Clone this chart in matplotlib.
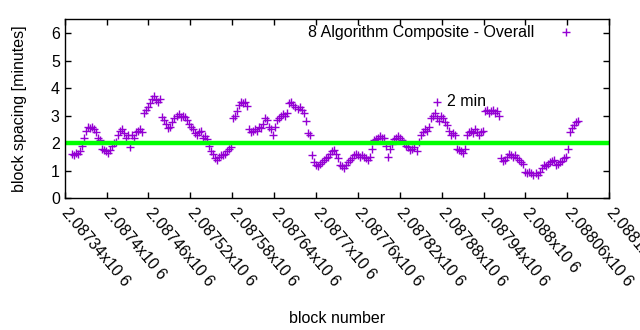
import numpy as np
import matplotlib
matplotlib.use('Agg')
import matplotlib.pyplot as plt
from matplotlib.ticker import FuncFormatter

plt.rcParams['font.family'] = ['Liberation Sans', 'DejaVu Sans']
plt.rcParams['font.size'] = 11.5

# block range covered by the series
first_block = 2087350
last_block = 2088075

# block spacing [minutes], read left to right
spacing = [
    1.6, 1.55, 1.65, 1.6, 1.7,
    1.9, 2.2, 2.45, 2.6, 2.55,
    2.6, 2.5, 2.4, 2.2, 2.1,
    1.8, 1.75, 1.7, 1.65, 1.75,
    1.9, 2.0, 2.05, 2.3, 2.45,
    2.5, 2.35, 2.2, 2.3, 1.85,
    2.3, 2.2, 2.4, 2.45, 2.5,
    2.4, 3.1, 3.2, 3.3, 3.45,
    3.6, 3.7, 3.55, 3.5, 3.6,
    2.95, 2.85, 2.7, 2.55, 2.6,
    2.75, 2.9, 3.0, 3.05, 2.95,
    3.0, 2.95, 2.85, 2.7, 2.6,
    2.5, 2.35, 2.3, 2.4, 2.45,
    2.2, 2.25, 2.15, 1.9, 1.7,
    1.6, 1.45, 1.4, 1.5, 1.55,
    1.55, 1.6, 1.7, 1.8, 1.85,
    2.9, 3.0, 3.15, 3.4, 3.5,
    3.45, 3.5, 3.35, 2.5, 2.4,
    2.45, 2.5, 2.45, 2.6, 2.55,
    2.7, 2.9, 2.85, 2.6, 2.5,
    2.3, 2.6, 2.85, 2.9, 3.0,
    3.05, 3.0, 3.1, 3.45, 3.5,
    3.4, 3.3, 3.25, 3.3, 3.2,
    3.1, 2.8, 2.35, 2.3, 1.55,
    1.3, 1.2, 1.15, 1.25, 1.3,
    1.4, 1.45, 1.5, 1.6, 1.7,
    1.75, 1.6, 1.45, 1.2, 1.15,
    1.1, 1.2, 1.3, 1.4, 1.45,
    1.55, 1.6, 1.55, 1.5, 1.55,
    1.5, 1.45, 1.4, 1.5, 1.8,
    2.1, 2.15, 2.2, 2.25, 2.2,
    2.2, 1.9, 1.5, 1.8, 1.95,
    2.15, 2.2, 2.25, 2.2, 2.1,
    2.0, 1.9, 1.85, 1.75, 1.8,
    1.85, 1.7, 2.05, 2.3, 2.4,
    2.5, 2.45, 2.6, 2.9, 3.0,
    3.1, 2.9, 2.8, 3.0, 2.9,
    2.75, 2.65, 2.45, 2.3, 2.35,
    2.3, 1.8, 1.75, 1.7, 1.65,
    1.8, 2.3, 2.4, 2.45, 2.35,
    2.5, 2.4, 2.3, 2.4, 2.45,
    3.15, 3.2, 3.1, 3.15, 3.2,
    3.1, 3.15, 3.0, 1.45, 1.35,
    1.4, 1.5, 1.6, 1.55, 1.5,
    1.55, 1.45, 1.4, 1.3, 1.25,
    0.95, 0.9, 0.95, 0.9, 0.85,
    0.9, 0.85, 0.95, 1.1, 1.2,
    1.15, 1.25, 1.3, 1.35, 1.4,
    1.2, 1.25, 1.3, 1.35, 1.45,
    1.5, 1.8, 2.4, 2.55, 2.65,
    2.75, 2.8,
]
blocks = np.linspace(first_block, last_block, len(spacing))

target = 2.0
label_block = 2087873
label_value = 3.5

xticks = np.arange(2087340, 2088121, 60)
yticks = [0, 1, 2, 3, 4, 5, 6]

purple = '#9400d3'

fig = plt.figure(figsize=(6.4, 3.3), dpi=100)
ax = fig.add_axes([0.101, 0.4, 0.851, 0.5415])

ax.plot(blocks, spacing, '+', color=purple, ms=6, mew=1.0,
        label='8 Algorithm Composite - Overall')
ax.axhline(target, color='#00ff00', lw=3.2)
ax.plot(label_block, label_value, '+', color=purple, ms=6, mew=1.0)
ax.text(label_block + 14, label_value, '2 min', va='center', ha='left')

ax.set_xlim(2087340, 2088120)
ax.set_ylim(0, 6.5)
ax.set_xticks(xticks)
ax.set_yticks(yticks)
ax.xaxis.set_major_formatter(FuncFormatter(lambda v, p: '{:g}x10 6'.format(v / 1e6)))
ax.tick_params(direction='in', length=4, width=1, top=True, right=True)
ax.tick_params(axis='x', pad=9)
for lab in ax.get_xticklabels():
    lab.set_rotation(-50)
    lab.set_ha('left')
    lab.set_va('center')
    lab.set_rotation_mode('anchor')
for s in ax.spines.values():
    s.set_linewidth(1.0)

ax.set_xlabel('block number', labelpad=15)
ax.set_ylabel('block spacing [minutes]')
ax.yaxis.set_label_coords(-0.07, 0.5)

ax.legend(loc='upper right', bbox_to_anchor=(0.97, 1.03), frameon=False,
          markerfirst=False, handlelength=2, handletextpad=1.0,
          borderaxespad=0.3)

fig.savefig('out.png', dpi=100)
